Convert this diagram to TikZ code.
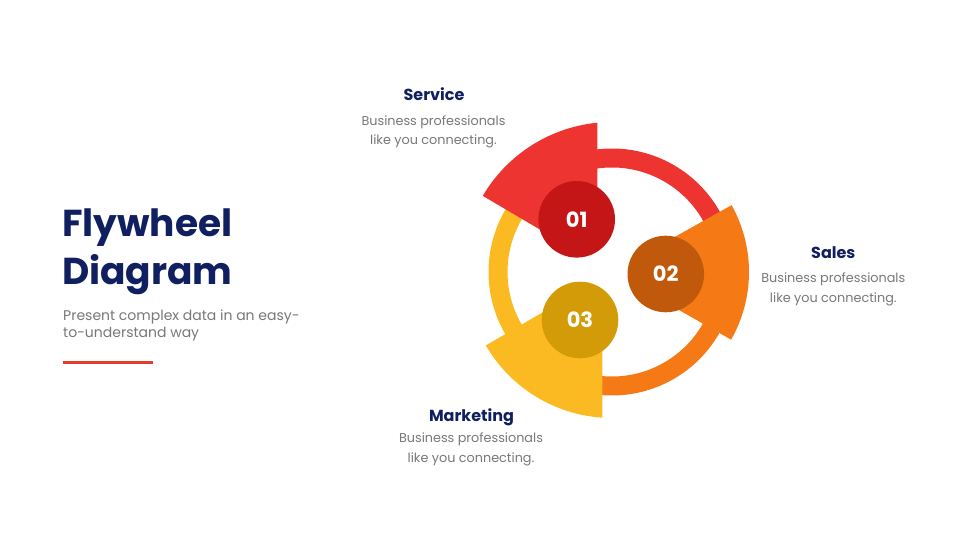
\documentclass[tikz,border=0pt]{standalone}
\usepackage{fontspec}
\setmainfont{Poppins}
\usepackage{xcolor}
\usepackage{tikz}
\usetikzlibrary{positioning}

\definecolor{navy}{HTML}{0F1F5F}
\definecolor{greytext}{HTML}{777777}
\definecolor{redband}{HTML}{EE3431}
\definecolor{reddot}{HTML}{C41616}
\definecolor{orangeband}{HTML}{F57A16}
\definecolor{orangedot}{HTML}{C0590B}
\definecolor{yellowband}{HTML}{FBBA22}
\definecolor{yellowdot}{HTML}{D49B09}
\definecolor{underline}{HTML}{E73B2E}

\tikzset{
	band/.style={line width=19pt},
	numdot/.style={circle,minimum size=76.6pt,inner sep=0pt,text=white,font=\bfseries\fontsize{21}{21}\selectfont},
	heading/.style={anchor=base,text=navy,inner sep=0pt,font=\bfseries\fontsize{16}{16}\selectfont},
	bodytext/.style={anchor=base,text=greytext,inner sep=0pt,align=center,font=\fontsize{12.8}{19.5}\selectfont},
}

\begin{document}
\begin{tikzpicture}[x=1pt,y=1pt]
	\useasboundingbox (0,0) rectangle (980,551);
	% title block
	\node[anchor=base west,inner sep=0pt,text=navy,align=left,font=\bfseries\fontsize{37.5}{48.3}\selectfont] (title) at (62,266) {Flywheel\\Diagram};
	\node[anchor=base west,inner sep=0pt,text=greytext,align=left,font=\fontsize{14}{17}\selectfont] (subtitle) at (63,213.3) {Present complex data in an easy-\\to-understand way};
	\draw[underline,line width=3pt] (62.7,188.3) coordinate (ul start) -- (152.7,188.3) coordinate (ul end);
	% flywheel
	\begin{scope}[shift={(612,279)}]
		\draw[band,redband] (20:114) arc[start angle=20,end angle=105,radius=114];
		\draw[band,yellowband] (140:114) arc[start angle=140,end angle=220,radius=114];
		\draw[band,orangeband] (255:114) arc[start angle=255,end angle=340,radius=114];
		\fill[redband] (-14.6,50) -- (95.6:150) arc[start angle=95.6,end angle=149.5,radius=150] -- (149.5:50) -- cycle;
		\fill[yellowband] (-9.7,-50) -- (266.2:146) arc[start angle=266.2,end angle=210.2,radius=146] -- (210.2:50) -- cycle;
		\fill[orangeband] (-29.6:45) -- (-29.6:137) arc[start angle=-29.6,end angle=29.2,radius=137] -- (29.2:45) -- cycle;
		\node[numdot,fill=reddot] (n01) at (-35.3,52.7) {01};
		\node[numdot,fill=orangedot] (n02) at (53.8,-2) {02};
		\node[numdot,fill=yellowdot] (n03) at (-32,-48) {03};
	\end{scope}
	% labels
	\node[heading] (service) at (434,450.3) {Service};
	\node[bodytext] (service text) at (433.5,406) {Business professionals\\like you connecting.};
	\node[heading] (sales) at (833.3,292.3) {Sales};
	\node[bodytext] (sales text) at (833.3,248.7) {Business professionals\\like you connecting.};
	\node[heading] (marketing) at (471.5,129) {Marketing};
	\node[bodytext] (marketing text) at (471,88.7) {Business professionals\\like you connecting.};
\end{tikzpicture}
\end{document}
